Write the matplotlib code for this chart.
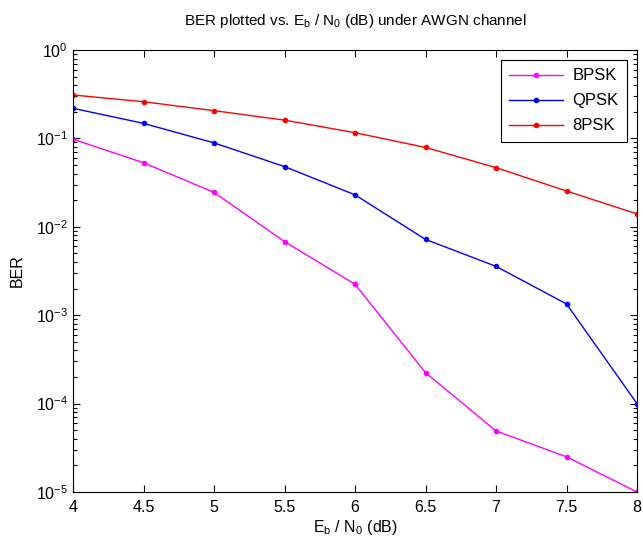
import matplotlib
matplotlib.use("Agg")
import matplotlib.pyplot as plt
from matplotlib.ticker import LogLocator, FixedLocator

plt.rcParams['font.family'] = ['Liberation Sans', 'DejaVu Sans']
plt.rcParams['mathtext.default'] = 'regular'

ebn0 = [4, 4.5, 5, 5.5, 6, 6.5, 7, 7.5, 8]
ber_bpsk = [0.098, 0.053, 0.0245, 0.0068, 0.00224, 2.24e-4, 4.9e-5, 2.5e-5, 1.0e-5]
ber_qpsk = [0.219, 0.148, 0.089, 0.048, 0.0230, 0.0072, 0.00357, 0.00134, 1.0e-4]
ber_8psk = [0.31, 0.26, 0.206, 0.161, 0.116, 0.079, 0.0467, 0.0254, 0.014]
xticks = [4, 4.5, 5, 5.5, 6, 6.5, 7, 7.5, 8]
xticklabels = ['4', '4.5', '5', '5.5', '6', '6.5', '7', '7.5', '8']

fig = plt.figure(figsize=(6.43, 5.42), dpi=100)
ax = fig.add_axes([73/643, 1-492/542, (637-73)/643, (492-50)/542])

ax.semilogy(ebn0, ber_bpsk, '.-', color=(1, 0, 1), lw=1, ms=6, label='BPSK')
ax.semilogy(ebn0, ber_qpsk, '.-', color=(0, 0, 1), lw=1, ms=6, label='QPSK')
ax.semilogy(ebn0, ber_8psk, '.-', color=(1, 0, 0), lw=1, ms=6, label='8PSK')

ax.set_xlim(4, 8)
ax.set_ylim(1e-5, 1)
ax.xaxis.set_major_locator(FixedLocator(xticks))
ax.set_xticklabels(xticklabels)
ax.yaxis.set_major_locator(LogLocator(base=10, numticks=10))
ax.yaxis.set_minor_locator(LogLocator(base=10, subs=range(2, 10), numticks=10))
ax.tick_params(which='both', direction='in', top=True, right=True, labelsize=11.5, colors='black')
ax.tick_params(which='major', length=5, width=0.8)
ax.tick_params(which='minor', length=3, width=0.8)
ax.tick_params(axis='x', pad=6)
for s in ax.spines.values():
    s.set_linewidth(0.8)

ax.set_xlabel('E$_b$ / N$_0$ (dB)', fontsize=11.5, labelpad=2)
ax.set_ylabel('BER', fontsize=11.5, labelpad=8)
ax.set_title('BER plotted vs. E$_b$ / N$_0$ (dB) under AWGN channel', fontsize=11, pad=18)

leg = ax.legend(loc='upper right', fontsize=12, fancybox=False, framealpha=1,
                edgecolor='black', borderaxespad=0.6, handlelength=3.2, labelspacing=0.6,
                handletextpad=0.6, borderpad=0.5)
leg.get_frame().set_linewidth(0.8)

fig.savefig('out.png', dpi=100, facecolor='white')
